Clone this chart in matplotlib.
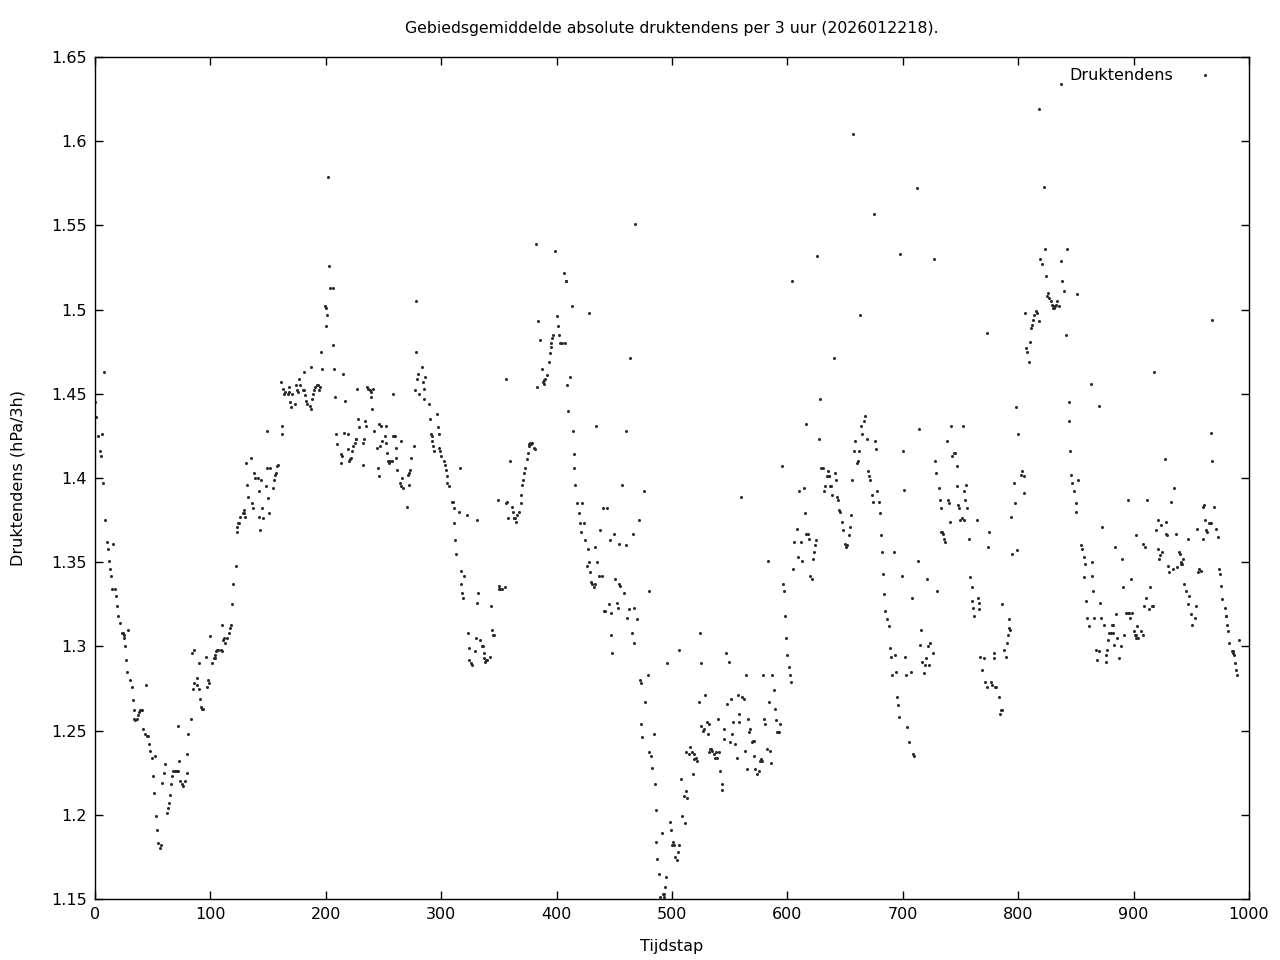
import matplotlib
matplotlib.use("Agg")
import matplotlib.pyplot as plt

# (tijdstap, druktendens), one list per stretch of the run
seg_000 = [(0, 1.445), (1, 1.436), (3, 1.425), (4, 1.416), (5, 1.413), (6, 1.426), (7, 1.397), (8, 1.463),
           (9, 1.375), (10, 1.362), (11, 1.358), (12, 1.351), (13, 1.346), (14, 1.342), (15, 1.334), (16, 1.361),
           (17, 1.334), (18, 1.330), (19, 1.324), (20, 1.318), (22, 1.314), (23, 1.308), (24, 1.308), (25, 1.307),
           (25, 1.305), (26, 1.300), (27, 1.292), (28, 1.285), (29, 1.310), (30, 1.280), (32, 1.276), (33, 1.268),
           (34, 1.262), (34, 1.257), (35, 1.256), (36, 1.257), (37, 1.259), (38, 1.261), (39, 1.262), (40, 1.262),
           (41, 1.262), (42, 1.251), (43, 1.248), (44, 1.277), (45, 1.247), (46, 1.247), (47, 1.242), (48, 1.238),
           (49, 1.234), (50, 1.223), (51, 1.213), (52, 1.235), (53, 1.199), (54, 1.191), (55, 1.183), (56, 1.180),
           (57, 1.182), (58, 1.219), (60, 1.225), (61, 1.230), (62, 1.201), (63, 1.204), (64, 1.207), (65, 1.212),
           (66, 1.218), (67, 1.223), (68, 1.226), (69, 1.226), (70, 1.226), (71, 1.226), (72, 1.226), (72, 1.253),
           (73, 1.232), (74, 1.220), (75, 1.218), (76, 1.217), (78, 1.220), (80, 1.225), (80, 1.236), (81, 1.248),
           (83, 1.257), (84, 1.296), (85, 1.275), (86, 1.278), (86, 1.298)]
seg_087 = [(88, 1.281), (88, 1.277), (90, 1.290), (90, 1.275), (91, 1.269), (92, 1.264), (93, 1.263), (94, 1.263),
           (96, 1.294), (97, 1.276), (98, 1.280), (99, 1.278), (100, 1.306), (101, 1.290), (103, 1.293), (104, 1.293),
           (104, 1.295), (105, 1.297), (106, 1.298), (107, 1.298), (109, 1.298), (110, 1.297), (110, 1.313),
           (111, 1.304), (112, 1.305), (113, 1.302), (114, 1.305), (116, 1.308), (117, 1.311), (118, 1.313),
           (119, 1.325), (120, 1.337), (122, 1.348), (123, 1.371), (123, 1.368), (124, 1.373), (125, 1.373),
           (126, 1.377), (128, 1.379), (129, 1.381), (129, 1.379), (130, 1.377), (131, 1.409), (132, 1.396),
           (133, 1.389), (135, 1.412), (136, 1.385), (137, 1.382), (138, 1.403), (139, 1.400), (141, 1.400),
           (142, 1.392), (142, 1.377), (143, 1.369), (144, 1.399), (145, 1.382), (146, 1.376), (148, 1.395),
           (149, 1.428), (149, 1.406), (150, 1.388), (151, 1.379), (152, 1.406), (154, 1.394), (155, 1.399),
           (156, 1.402), (157, 1.403), (158, 1.407), (159, 1.408), (161, 1.457), (162, 1.426), (162, 1.431),
           (163, 1.453), (164, 1.450), (165, 1.451), (167, 1.450), (168, 1.454), (168, 1.451), (169, 1.445),
           (170, 1.442), (171, 1.450), (173, 1.444)]
seg_174 = [(174, 1.455), (175, 1.452), (176, 1.451), (177, 1.459), (178, 1.455), (180, 1.452), (181, 1.463),
           (181, 1.452), (182, 1.449), (183, 1.446), (184, 1.444), (186, 1.443), (187, 1.441), (187, 1.466),
           (188, 1.447), (189, 1.450), (190, 1.452), (191, 1.454), (192, 1.455), (193, 1.455), (194, 1.452),
           (195, 1.454), (196, 1.475), (197, 1.465), (199, 1.502), (200, 1.490), (200, 1.501), (201, 1.497),
           (202, 1.579), (203, 1.526), (204, 1.513), (206, 1.479), (206, 1.513), (207, 1.465), (208, 1.448),
           (209, 1.426), (210, 1.420), (213, 1.414), (213, 1.409), (214, 1.413), (215, 1.462), (216, 1.427),
           (217, 1.446), (219, 1.426), (219, 1.417), (220, 1.410), (221, 1.411), (222, 1.412), (223, 1.416),
           (224, 1.419), (225, 1.421), (226, 1.423), (226, 1.423), (227, 1.453), (228, 1.435), (229, 1.430),
           (232, 1.421), (232, 1.408), (233, 1.423), (234, 1.434), (235, 1.431), (236, 1.454), (237, 1.453),
           (238, 1.452), (239, 1.451), (239, 1.448), (240, 1.441), (241, 1.453), (242, 1.428), (244, 1.418),
           (245, 1.406), (246, 1.401), (246, 1.432), (247, 1.419), (248, 1.431), (249, 1.422), (251, 1.425),
           (252, 1.431), (252, 1.421), (253, 1.415), (254, 1.410), (255, 1.409), (256, 1.410), (257, 1.410),
           (258, 1.450), (258, 1.425), (259, 1.425)]
seg_260 = [(260, 1.425), (261, 1.418), (261, 1.412), (262, 1.405), (264, 1.397), (265, 1.395), (265, 1.422),
           (266, 1.400), (267, 1.394), (270, 1.383), (271, 1.402), (272, 1.396), (272, 1.403), (273, 1.405),
           (274, 1.412), (276, 1.419), (277, 1.452), (278, 1.505), (278, 1.475), (279, 1.459), (280, 1.462),
           (281, 1.450), (283, 1.466), (284, 1.457), (285, 1.453), (285, 1.447), (286, 1.460), (289, 1.444),
           (290, 1.435), (291, 1.426), (292, 1.425), (292, 1.422), (293, 1.419), (294, 1.416), (296, 1.438),
           (297, 1.430), (298, 1.426), (298, 1.418), (299, 1.416), (300, 1.413), (302, 1.410), (303, 1.408),
           (304, 1.405), (305, 1.401), (305, 1.397), (307, 1.395), (309, 1.386), (310, 1.386), (311, 1.382),
           (311, 1.373), (312, 1.363), (313, 1.355), (315, 1.380), (316, 1.406), (317, 1.345), (317, 1.337),
           (318, 1.332), (319, 1.329), (320, 1.342), (322, 1.378), (323, 1.308), (324, 1.299), (324, 1.292),
           (326, 1.290), (327, 1.289), (329, 1.297), (330, 1.305), (331, 1.326), (331, 1.375), (332, 1.332),
           (334, 1.304), (335, 1.300), (336, 1.300), (337, 1.296), (337, 1.293), (338, 1.291), (339, 1.292),
           (340, 1.292), (342, 1.294), (343, 1.324), (344, 1.310), (345, 1.307), (346, 1.307)]
seg_347 = [(349, 1.387), (350, 1.336), (350, 1.334), (351, 1.334), (353, 1.334), (355, 1.335), (356, 1.459),
           (356, 1.385), (357, 1.386), (358, 1.376), (360, 1.410), (361, 1.383), (362, 1.380), (363, 1.376),
           (363, 1.376), (364, 1.376), (365, 1.374), (366, 1.378), (367, 1.380), (369, 1.385), (369, 1.390),
           (370, 1.396), (371, 1.399), (372, 1.403), (373, 1.406), (374, 1.411), (375, 1.415), (376, 1.419),
           (376, 1.420), (377, 1.421), (378, 1.420), (379, 1.421), (380, 1.418), (381, 1.417), (382, 1.539),
           (383, 1.454), (384, 1.493), (386, 1.482), (387, 1.465), (388, 1.457), (389, 1.458), (389, 1.456),
           (390, 1.459), (392, 1.461), (393, 1.469), (394, 1.474), (395, 1.478), (395, 1.480), (396, 1.483),
           (397, 1.485), (399, 1.535), (400, 1.496), (401, 1.490), (402, 1.485), (403, 1.480), (405, 1.480),
           (406, 1.522), (407, 1.480), (408, 1.517), (408, 1.517), (409, 1.455), (410, 1.440), (412, 1.460),
           (413, 1.502), (414, 1.428), (415, 1.414), (415, 1.406), (416, 1.396), (418, 1.385), (419, 1.379),
           (420, 1.373), (421, 1.368), (422, 1.385), (424, 1.373), (425, 1.363), (426, 1.348), (427, 1.358),
           (428, 1.498), (428, 1.350), (429, 1.344), (430, 1.338), (431, 1.337), (432, 1.335), (433, 1.337),
           (433, 1.359), (434, 1.431)]
seg_435 = [(435, 1.350), (437, 1.342), (438, 1.369), (439, 1.342), (440, 1.382), (441, 1.321), (442, 1.321),
           (444, 1.382), (445, 1.325), (446, 1.363), (447, 1.320), (447, 1.307), (448, 1.296), (450, 1.367),
           (451, 1.340), (452, 1.326), (453, 1.323), (454, 1.361), (454, 1.337), (455, 1.336), (457, 1.396),
           (458, 1.332), (460, 1.428), (460, 1.360), (461, 1.317), (463, 1.322), (464, 1.471), (465, 1.308),
           (466, 1.367), (467, 1.323), (467, 1.302), (468, 1.551), (470, 1.316), (471, 1.375), (472, 1.280),
           (473, 1.278), (473, 1.254), (474, 1.246), (476, 1.392), (477, 1.267), (479, 1.283), (480, 1.333),
           (480, 1.237), (482, 1.235), (483, 1.228), (484, 1.248), (485, 1.218), (486, 1.203), (486, 1.184),
           (487, 1.174), (489, 1.165), (490, 1.151), (491, 1.189), (492, 1.153), (493, 1.153), (493, 1.151),
           (494, 1.157), (495, 1.163), (496, 1.290), (498, 1.196), (499, 1.191), (500, 1.182), (501, 1.184),
           (502, 1.182), (503, 1.175), (504, 1.173), (505, 1.178), (506, 1.182), (506, 1.298), (508, 1.221),
           (509, 1.199), (510, 1.211), (511, 1.195), (512, 1.214), (512, 1.237), (513, 1.210), (515, 1.236),
           (516, 1.240), (517, 1.237), (518, 1.224), (519, 1.233), (519, 1.236)]
seg_521 = [(521, 1.234), (522, 1.232), (523, 1.267), (524, 1.308), (525, 1.290), (525, 1.253), (527, 1.250),
           (528, 1.251), (529, 1.271), (530, 1.255), (531, 1.248), (532, 1.237), (532, 1.254), (533, 1.239),
           (534, 1.239), (535, 1.238), (536, 1.236), (537, 1.234), (538, 1.237), (539, 1.234), (540, 1.257),
           (541, 1.237), (542, 1.226), (543, 1.218), (543, 1.215), (545, 1.251), (545, 1.245), (547, 1.296),
           (548, 1.266), (549, 1.291), (550, 1.243), (551, 1.269), (552, 1.248), (553, 1.255), (555, 1.242),
           (556, 1.234), (557, 1.271), (558, 1.260), (558, 1.255), (560, 1.389), (561, 1.270), (562, 1.269),
           (563, 1.238), (564, 1.283), (565, 1.227), (566, 1.257), (567, 1.249), (568, 1.251), (569, 1.243),
           (570, 1.244), (571, 1.244), (571, 1.235), (572, 1.227), (574, 1.224), (575, 1.226), (576, 1.232),
           (577, 1.233), (578, 1.232), (579, 1.283), (580, 1.257), (581, 1.254), (582, 1.239), (583, 1.351),
           (584, 1.267), (585, 1.238), (586, 1.231), (587, 1.283), (588, 1.274), (589, 1.263), (590, 1.256),
           (591, 1.249), (592, 1.249), (593, 1.249), (594, 1.254), (595, 1.407), (596, 1.337), (597, 1.333),
           (598, 1.318), (599, 1.305), (600, 1.295), (601, 1.288), (602, 1.283), (603, 1.279), (604, 1.517),
           (605, 1.346), (606, 1.362)]
seg_608 = [(608, 1.370), (609, 1.353), (610, 1.392), (612, 1.362), (613, 1.351), (614, 1.394), (615, 1.379),
           (616, 1.367), (616, 1.432), (618, 1.367), (619, 1.364), (620, 1.342), (621, 1.340), (622, 1.352),
           (623, 1.356), (624, 1.360), (625, 1.363), (626, 1.532), (627, 1.423), (628, 1.447), (629, 1.406),
           (631, 1.406), (632, 1.392), (633, 1.395), (634, 1.401), (635, 1.404), (636, 1.401), (636, 1.401),
           (637, 1.395), (638, 1.395), (639, 1.390), (640, 1.471), (641, 1.403), (642, 1.399), (643, 1.389),
           (644, 1.387), (645, 1.381), (646, 1.380), (647, 1.374), (648, 1.369), (650, 1.361), (651, 1.359),
           (652, 1.360), (653, 1.366), (654, 1.371), (655, 1.378), (656, 1.399), (657, 1.604), (658, 1.416),
           (659, 1.422), (660, 1.409), (661, 1.410), (662, 1.416), (663, 1.497), (664, 1.431), (665, 1.426),
           (666, 1.434), (667, 1.437), (669, 1.423), (670, 1.404), (671, 1.401), (672, 1.399), (673, 1.390),
           (674, 1.386), (675, 1.557), (676, 1.422), (677, 1.417), (678, 1.392), (679, 1.386), (680, 1.379),
           (681, 1.366), (682, 1.356), (683, 1.343), (684, 1.331), (685, 1.321), (686, 1.316), (688, 1.312),
           (689, 1.299), (690, 1.294), (691, 1.283), (692, 1.356), (693, 1.295)]
seg_694 = [(694, 1.285), (695, 1.270), (696, 1.265), (697, 1.258), (698, 1.533), (699, 1.342), (700, 1.416),
           (701, 1.393), (702, 1.294), (703, 1.283), (704, 1.252), (705, 1.243), (707, 1.285), (708, 1.329),
           (709, 1.236), (710, 1.235), (712, 1.572), (713, 1.351), (714, 1.429), (715, 1.301), (716, 1.310),
           (717, 1.291), (718, 1.284), (719, 1.289), (720, 1.293), (721, 1.340), (722, 1.300), (723, 1.289),
           (724, 1.302), (726, 1.296), (727, 1.530), (728, 1.410), (729, 1.403), (730, 1.333), (731, 1.394),
           (732, 1.387), (733, 1.368), (733, 1.382), (734, 1.368), (735, 1.367), (736, 1.364), (737, 1.362),
           (738, 1.422), (739, 1.387), (740, 1.385), (741, 1.374), (742, 1.431), (743, 1.413), (744, 1.415),
           (745, 1.415), (747, 1.395), (747, 1.407), (748, 1.384), (749, 1.382), (750, 1.375), (751, 1.376),
           (752, 1.431), (753, 1.375), (753, 1.392), (754, 1.387), (755, 1.396), (756, 1.382), (757, 1.364),
           (758, 1.341), (760, 1.335), (760, 1.327), (761, 1.323), (762, 1.318), (764, 1.375), (765, 1.329),
           (766, 1.326), (766, 1.322), (767, 1.294), (769, 1.286), (770, 1.293), (771, 1.279), (773, 1.276),
           (773, 1.486), (774, 1.359), (775, 1.368), (776, 1.279), (777, 1.277), (779, 1.296), (779, 1.293),
           (780, 1.276), (781, 1.276), (783, 1.270), (784, 1.260), (785, 1.262), (786, 1.262), (786, 1.325),
           (788, 1.298), (789, 1.294)]
seg_790 = [(790, 1.302), (791, 1.307), (792, 1.311), (792, 1.316), (793, 1.310), (794, 1.377), (795, 1.355),
           (796, 1.397), (797, 1.385), (798, 1.442), (799, 1.357), (800, 1.426), (802, 1.402), (803, 1.404),
           (805, 1.401), (805, 1.391), (806, 1.498), (807, 1.477), (808, 1.475), (809, 1.469), (810, 1.481),
           (811, 1.489), (812, 1.491), (813, 1.494), (814, 1.497), (815, 1.499), (816, 1.498), (818, 1.493),
           (818, 1.619), (819, 1.530), (821, 1.527), (822, 1.573), (823, 1.536), (824, 1.520), (825, 1.508),
           (826, 1.510), (827, 1.507), (828, 1.505), (829, 1.503), (830, 1.501), (831, 1.502), (831, 1.501),
           (832, 1.502), (833, 1.503), (834, 1.505), (835, 1.502), (837, 1.634), (837, 1.529), (838, 1.517),
           (840, 1.511), (841, 1.485), (842, 1.536), (844, 1.445), (844, 1.434), (845, 1.416), (846, 1.402),
           (847, 1.397), (848, 1.392), (850, 1.385), (850, 1.380), (851, 1.509), (852, 1.399), (854, 1.360),
           (855, 1.358), (857, 1.353), (857, 1.341), (858, 1.349), (859, 1.327), (860, 1.317), (861, 1.312),
           (863, 1.456), (864, 1.350), (864, 1.342), (865, 1.333), (866, 1.317)]
seg_867 = [(867, 1.298), (868, 1.292), (870, 1.297), (870, 1.443), (871, 1.326), (872, 1.317), (873, 1.371),
           (874, 1.313), (876, 1.295), (876, 1.291), (877, 1.298), (878, 1.304), (879, 1.308), (880, 1.308),
           (881, 1.313), (882, 1.313), (882, 1.308), (883, 1.301), (884, 1.359), (885, 1.319), (886, 1.305),
           (887, 1.293), (889, 1.300), (890, 1.352), (891, 1.335), (892, 1.307), (893, 1.320), (895, 1.320),
           (895, 1.387), (896, 1.320), (897, 1.317), (898, 1.340), (899, 1.320), (900, 1.309), (901, 1.307),
           (902, 1.307), (902, 1.305), (902, 1.366), (903, 1.312), (904, 1.305), (906, 1.309), (908, 1.307),
           (908, 1.361), (909, 1.324), (910, 1.359), (911, 1.329), (912, 1.387), (913, 1.322), (914, 1.335),
           (916, 1.324), (917, 1.324), (918, 1.463), (919, 1.369), (921, 1.375), (921, 1.358), (922, 1.352),
           (923, 1.354), (924, 1.372), (925, 1.356), (927, 1.411), (928, 1.367), (928, 1.374), (929, 1.366),
           (930, 1.348), (931, 1.344)]
seg_932 = [(932, 1.386), (934, 1.346), (935, 1.394), (937, 1.367), (938, 1.347), (939, 1.356), (940, 1.355),
           (941, 1.350), (941, 1.349), (942, 1.349), (943, 1.352), (944, 1.337), (945, 1.333), (947, 1.364),
           (947, 1.325), (948, 1.330), (950, 1.319), (951, 1.313), (953, 1.317), (954, 1.324), (955, 1.370),
           (956, 1.344), (957, 1.346), (958, 1.345), (960, 1.383), (960, 1.364), (961, 1.384), (962, 1.375),
           (963, 1.369), (964, 1.368), (965, 1.373), (966, 1.373), (967, 1.373), (967, 1.427), (968, 1.410),
           (968, 1.494), (970, 1.383), (971, 1.370), (973, 1.365), (974, 1.346), (975, 1.343), (976, 1.336),
           (977, 1.328), (979, 1.323), (980, 1.318), (980, 1.318), (981, 1.313), (982, 1.309), (983, 1.302),
           (985, 1.297), (986, 1.297), (986, 1.296), (987, 1.295), (988, 1.290), (989, 1.286), (990, 1.283),
           (991, 1.304)]

x_ticks = [0, 100, 200, 300, 400, 500, 600, 700, 800, 900, 1000]
y_ticks = [1.15, 1.2, 1.25, 1.3, 1.35, 1.4, 1.45, 1.5, 1.55, 1.6, 1.65]
y_tick_labels = ['1.15', '1.2', '1.25', '1.3', '1.35', '1.4', '1.45', '1.5', '1.55', '1.6', '1.65']


def main():
    segments = [seg_000, seg_087, seg_174, seg_260, seg_347, seg_435,
                seg_521, seg_608, seg_694, seg_790, seg_867, seg_932]
    points = [p for seg in segments for p in seg]
    tijdstap = [p[0] for p in points]
    tendens = [p[1] for p in points]

    plt.rcParams['font.family'] = ['DejaVu Sans']
    fig = plt.figure(figsize=(12.8, 9.6), dpi=100)
    ax = fig.add_axes([95 / 1280, 1 - 899 / 960, (1249 - 95) / 1280, (899 - 57) / 960])

    ax.plot(tijdstap, tendens, linestyle='none', marker='o', markersize=2.2,
            color='#2a2a2a', markeredgewidth=0, label='Druktendens')

    ax.set_xlim(0, 1000)
    ax.set_ylim(1.15, 1.65)
    ax.set_xticks(x_ticks)
    ax.set_yticks(y_ticks)
    ax.set_yticklabels(y_tick_labels)
    ax.tick_params(direction='in', length=6, width=1, top=True, right=True,
                   labelsize=11.5, pad=6)
    for side in ax.spines.values():
        side.set_linewidth(1)

    ax.set_title("Gebiedsgemiddelde absolute druktendens per 3 uur (2026012218).",
                 fontsize=11.3, pad=17)
    ax.set_xlabel("Tijdstap", fontsize=11.5)
    ax.set_ylabel("Druktendens (hPa/3h)", fontsize=11.5)
    ax.xaxis.set_label_coords(0.5, -0.0475)
    ax.yaxis.set_label_coords(-0.0598, 0.5)

    ax.legend(loc='upper right', bbox_to_anchor=(0.980, 1.0), frameon=False,
              markerfirst=False, fontsize=11.5, handlelength=1.2, handletextpad=1.4,
              borderaxespad=0.3)

    fig.savefig('out.png', dpi=100)


if __name__ == "__main__":
    main()
